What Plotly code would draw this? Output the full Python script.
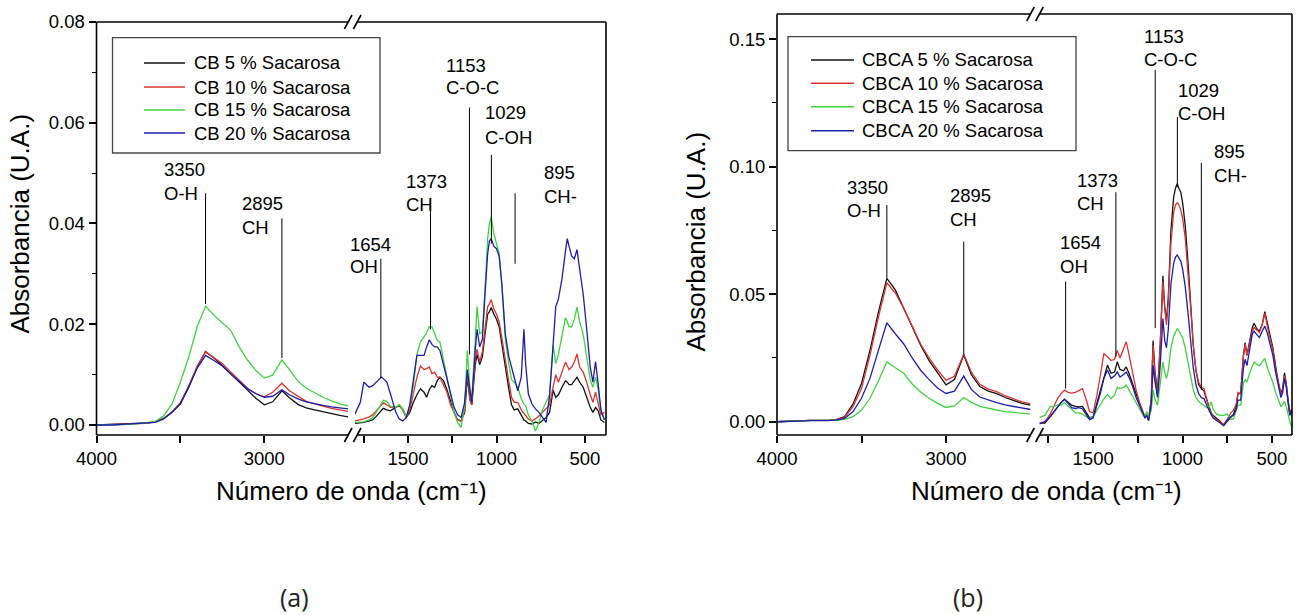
import plotly.graph_objects as go

# ---------------- data: FTIR spectra ----------------
# wavenumbers (cm-1) of the high-frequency segment, shared by both panels
wn_left = [4000, 3900, 3800, 3700, 3650, 3600, 3550, 3500, 3450, 3400,
           3350, 3300, 3250, 3200, 3150, 3100, 3050, 3000, 2950, 2895,
           2850, 2800, 2750, 2700, 2650, 2600, 2550, 2500]

# panel (a): CB samples
cb5_left = [0.0, 0.0001, 0.0002, 0.0004, 0.0006, 0.0013, 0.0025, 0.0042, 0.0075, 0.0115,
            0.0146, 0.0133, 0.0118, 0.0102, 0.0085, 0.0068, 0.0053, 0.0040, 0.0046, 0.0068,
            0.0054, 0.0041, 0.0034, 0.0030, 0.0026, 0.0022, 0.0019, 0.0016]
cb10_left = [0.0, 0.0001, 0.0002, 0.0003, 0.0006, 0.0013, 0.0026, 0.0044, 0.0078, 0.0117,
             0.0145, 0.0134, 0.0122, 0.0105, 0.0088, 0.0073, 0.0062, 0.0056, 0.0065, 0.0083,
             0.0068, 0.0057, 0.0047, 0.0042, 0.0037, 0.0033, 0.0030, 0.0027]
cb15_left = [0.0, 0.0001, 0.0001, 0.0004, 0.0007, 0.0018, 0.0042, 0.0085, 0.0135, 0.0195,
             0.0236, 0.0218, 0.0202, 0.0188, 0.0155, 0.0129, 0.0108, 0.0093, 0.0099, 0.0129,
             0.0110, 0.0087, 0.0073, 0.0064, 0.0055, 0.0048, 0.0042, 0.0038]
cb20_left = [0.0, 0.0, 0.0002, 0.0003, 0.0005, 0.0012, 0.0025, 0.0043, 0.0076, 0.0113,
             0.0138, 0.0128, 0.0117, 0.0101, 0.0086, 0.0072, 0.0062, 0.0055, 0.0057, 0.0070,
             0.0060, 0.0052, 0.0046, 0.0042, 0.0039, 0.0036, 0.0034, 0.0032]

wn_a_right = [1800, 1770, 1750, 1720, 1700, 1680, 1660, 1650, 1640, 1620,
              1600, 1570, 1550, 1530, 1510, 1490, 1470, 1450, 1430, 1410,
              1395, 1380, 1365, 1350, 1335, 1320, 1300, 1280, 1260, 1240,
              1220, 1200, 1180, 1165, 1150, 1140, 1120, 1110, 1095, 1080,
              1065, 1050, 1040, 1030, 1015, 1000, 985, 970, 950, 930,
              915, 900, 880, 860, 850, 845, 835, 820, 800, 780,
              760, 740, 720, 700, 680, 665, 650, 630, 610, 600,
              590, 575, 560, 545, 530, 510, 490, 470, 455, 440,
              425, 410, 390]
cb5_right = [0.0003, 0.0004, 0.0005, 0.0008, 0.0010, 0.0017, 0.0025, 0.0030, 0.0033, 0.0030,
             0.0028, 0.0035, 0.0038, 0.0030, 0.0015, 0.0025, 0.0045, 0.0060, 0.0072, 0.0065,
             0.0055, 0.0070, 0.0078, 0.0075, 0.0088, 0.0095, 0.0088, 0.0070, 0.0045, 0.0025,
             0.0010, 0.0008, 0.0025, 0.0095, 0.0050, 0.0040, 0.0120, 0.0140, 0.0120, 0.0135,
             0.0180, 0.0220, 0.0225, 0.0233, 0.0220, 0.0210, 0.0195, 0.0160, 0.0110, 0.0070,
             0.0040, 0.0030, 0.0032, 0.0020, 0.0012, 0.0010, 0.0008, 0.0003, 0.0002, 0.0006,
             0.0003, 0.0010, 0.0015, 0.0025, 0.0069, 0.0055, 0.0060, 0.0075, 0.0088, 0.0085,
             0.0080, 0.0080, 0.0088, 0.0095, 0.0085, 0.0075, 0.0055, 0.0035, 0.0025, 0.0035,
             0.0028, 0.0010, 0.0005]
cb10_right = [0.0008, 0.0010, 0.0012, 0.0016, 0.0020, 0.0028, 0.0036, 0.0040, 0.0044, 0.0040,
              0.0035, 0.0035, 0.0040, 0.0032, 0.0015, 0.0030, 0.0060, 0.0095, 0.0117, 0.0110,
              0.0112, 0.0115, 0.0102, 0.0105, 0.0095, 0.0095, 0.0080, 0.0065, 0.0040, 0.0025,
              0.0010, 0.0008, 0.0030, 0.0105, 0.0050, 0.0040, 0.0130, 0.0150, 0.0125, 0.0145,
              0.0190, 0.0235, 0.0240, 0.0249, 0.0230, 0.0220, 0.0205, 0.0175, 0.0130, 0.0085,
              0.0055, 0.0045, 0.0045, 0.0030, 0.0025, 0.0023, 0.0020, 0.0012, 0.0008, 0.0012,
              0.0018, 0.0025, 0.0032, 0.0040, 0.0075, 0.0100, 0.0085, 0.0105, 0.0125, 0.0118,
              0.0110, 0.0115, 0.0125, 0.0141, 0.0115, 0.0105, 0.0085, 0.0060, 0.0045, 0.0065,
              0.0045, 0.0020, 0.0025]
cb15_right = [0.0005, 0.0005, 0.0006, 0.0010, 0.0015, 0.0025, 0.0038, 0.0045, 0.0049, 0.0047,
              0.0037, 0.0035, 0.0040, 0.0030, 0.0016, 0.0040, 0.0078, 0.0140, 0.0165, 0.0175,
              0.0183, 0.0195, 0.0195, 0.0182, 0.0168, 0.0165, 0.0130, 0.0090, 0.0055, 0.0025,
              0.0005, -0.0005, 0.0040, 0.0148, 0.0072, 0.0050, 0.0170, 0.0235, 0.0180, 0.0185,
              0.0270, 0.0370, 0.0400, 0.0413, 0.0380, 0.0360, 0.0340, 0.0280, 0.0170, 0.0120,
              0.0090, 0.0085, 0.0075, 0.0052, 0.0045, 0.0042, 0.0038, 0.0020, 0.0008, -0.0012,
              0.0005, 0.0030, 0.0045, 0.0060, 0.0158, 0.0122, 0.0140, 0.0175, 0.0213, 0.0205,
              0.0195, 0.0195, 0.0210, 0.0234, 0.0205, 0.0180, 0.0130, 0.0090, 0.0075, 0.0095,
              0.0070, 0.0030, 0.0010]
cb20_right = [0.0022, 0.0045, 0.0085, 0.0075, 0.0078, 0.0085, 0.0092, 0.0095, 0.0092, 0.0085,
              0.0062, 0.0026, 0.0012, 0.0008, 0.0015, 0.0040, 0.0090, 0.0138, 0.0138, 0.0138,
              0.0155, 0.0169, 0.0160, 0.0155, 0.0155, 0.0148, 0.0120, 0.0090, 0.0065, 0.0035,
              0.0020, 0.0015, 0.0045, 0.0110, 0.0068, 0.0045, 0.0150, 0.0190, 0.0155, 0.0170,
              0.0260, 0.0340, 0.0365, 0.0370, 0.0355, 0.0350, 0.0335, 0.0280, 0.0180, 0.0135,
              0.0115, 0.0095, 0.0068, 0.0095, 0.0175, 0.0190, 0.0120, 0.0062, 0.0042, 0.0032,
              0.0025, 0.0015, 0.0005, 0.0058, 0.0150, 0.0235, 0.0250, 0.0290, 0.0345, 0.0370,
              0.0355, 0.0335, 0.0330, 0.0348, 0.0310, 0.0260, 0.0190, 0.0115, 0.0085, 0.0126,
              0.0080, 0.0030, 0.0010]

# panel (b): CBCA samples
cbca5_left = [0.0, 0.0003, 0.0005, 0.0005, 0.0008, 0.0020, 0.0070, 0.0150, 0.0280, 0.0430,
              0.0562, 0.0517, 0.0445, 0.0370, 0.0300, 0.0240, 0.0192, 0.0145, 0.0165, 0.0262,
              0.0185, 0.0138, 0.0120, 0.0110, 0.0095, 0.0082, 0.0072, 0.0065]
cbca10_left = [0.0, 0.0003, 0.0005, 0.0005, 0.0007, 0.0017, 0.0060, 0.0130, 0.0260, 0.0410,
               0.0545, 0.0505, 0.0445, 0.0375, 0.0305, 0.0250, 0.0203, 0.0163, 0.0178, 0.0265,
               0.0195, 0.0147, 0.0128, 0.0118, 0.0102, 0.0090, 0.0078, 0.0070]
cbca15_left = [0.0, 0.0003, 0.0005, 0.0005, 0.0005, 0.0009, 0.0020, 0.0045, 0.0092, 0.0160,
               0.0235, 0.0212, 0.0190, 0.0148, 0.0117, 0.0092, 0.0072, 0.0056, 0.0062, 0.0095,
               0.0076, 0.0060, 0.0052, 0.0046, 0.0040, 0.0036, 0.0033, 0.0030]
cbca20_left = [0.0, 0.0003, 0.0004, 0.0004, 0.0006, 0.0013, 0.0040, 0.0092, 0.0170, 0.0280,
               0.0388, 0.0345, 0.0305, 0.0250, 0.0202, 0.0165, 0.0132, 0.0111, 0.0120, 0.0179,
               0.0127, 0.0097, 0.0085, 0.0075, 0.0066, 0.0060, 0.0053, 0.0048]

wn_b_right = [1800, 1770, 1740, 1720, 1700, 1680, 1660, 1640, 1620, 1600,
              1580, 1560, 1540, 1520, 1500, 1480, 1460, 1440, 1420, 1400,
              1380, 1365, 1350, 1330, 1315, 1300, 1280, 1260, 1240, 1220,
              1210, 1200, 1190, 1175, 1165, 1155, 1140, 1125, 1110, 1100,
              1090, 1080, 1065, 1050, 1040, 1030, 1020, 1010, 1000, 985,
              970, 955, 940, 925, 910, 895, 880, 865, 850, 840,
              830, 810, 790, 770, 750, 730, 715, 700, 690, 675,
              660, 650, 640, 625, 610, 600, 585, 570, 555, 540,
              525, 510, 495, 480, 465, 450, 440, 430, 420, 410,
              400, 390]
cbca5_right = [-0.0005, -0.0005, 0.0020, 0.0040, 0.0060, 0.0075, 0.0088, 0.0075, 0.0065, 0.0060,
               0.0058, 0.0060, 0.0040, 0.0015, 0.0020, 0.0070, 0.0120, 0.0180, 0.0222, 0.0190,
               0.0195, 0.0235, 0.0205, 0.0200, 0.0215, 0.0190, 0.0150, 0.0105, 0.0065, 0.0030,
               0.0015, 0.0030, 0.0005, 0.0090, 0.0318, 0.0200, 0.0115, 0.0300, 0.0572, 0.0450,
               0.0400, 0.0485, 0.0750, 0.0880, 0.0915, 0.0933, 0.0915, 0.0900, 0.0860, 0.0770,
               0.0630, 0.0460, 0.0300, 0.0200, 0.0145, 0.0131, 0.0120, 0.0085, 0.0050, 0.0035,
               0.0025, 0.0012, 0.0002, -0.0015, 0.0002, 0.0020, 0.0030, 0.0060, 0.0110, 0.0110,
               0.0260, 0.0310, 0.0260, 0.0315, 0.0370, 0.0386, 0.0365, 0.0355, 0.0380, 0.0432,
               0.0380, 0.0335, 0.0290, 0.0220, 0.0155, 0.0110, 0.0130, 0.0192, 0.0150, 0.0080,
               0.0030, 0.0050]
cbca10_right = [-0.0005, 0.0000, 0.0030, 0.0060, 0.0090, 0.0110, 0.0124, 0.0115, 0.0112, 0.0115,
                0.0122, 0.0130, 0.0090, 0.0040, 0.0035, 0.0100, 0.0180, 0.0268, 0.0255, 0.0240,
                0.0245, 0.0280, 0.0250, 0.0285, 0.0314, 0.0265, 0.0190, 0.0125, 0.0075, 0.0035,
                0.0020, 0.0030, 0.0010, 0.0085, 0.0300, 0.0190, 0.0105, 0.0300, 0.0550, 0.0450,
                0.0380, 0.0470, 0.0700, 0.0820, 0.0850, 0.0859, 0.0850, 0.0830, 0.0800, 0.0720,
                0.0600, 0.0450, 0.0300, 0.0200, 0.0155, 0.0135, 0.0130, 0.0090, 0.0050, 0.0035,
                0.0020, 0.0008, 0.0000, -0.0010, 0.0010, 0.0035, 0.0045, 0.0070, 0.0115, 0.0110,
                0.0250, 0.0305, 0.0260, 0.0310, 0.0355, 0.0370, 0.0360, 0.0350, 0.0380, 0.0425,
                0.0370, 0.0325, 0.0280, 0.0210, 0.0150, 0.0105, 0.0125, 0.0180, 0.0145, 0.0075,
                0.0030, 0.0040]
cbca15_right = [0.0017, 0.0025, 0.0059, 0.0060, 0.0065, 0.0065, 0.0075, 0.0060, 0.0050, 0.0035,
                0.0035, 0.0030, 0.0020, 0.0012, 0.0020, 0.0045, 0.0070, 0.0090, 0.0107, 0.0090,
                0.0105, 0.0135, 0.0130, 0.0135, 0.0144, 0.0125, 0.0100, 0.0070, 0.0045, 0.0025,
                0.0020, 0.0040, 0.0015, 0.0045, 0.0125, 0.0090, 0.0065, 0.0145, 0.0235, 0.0195,
                0.0170, 0.0200, 0.0290, 0.0335, 0.0355, 0.0366, 0.0355, 0.0345, 0.0330, 0.0290,
                0.0240, 0.0180, 0.0125, 0.0095, 0.0080, 0.0070, 0.0065, 0.0055, 0.0060, 0.0078,
                0.0050, 0.0030, 0.0025, 0.0025, 0.0030, 0.0010, 0.0012, 0.0040, 0.0065, 0.0065,
                0.0150, 0.0165, 0.0155, 0.0190, 0.0220, 0.0235, 0.0225, 0.0220, 0.0235, 0.0248,
                0.0210, 0.0180, 0.0155, 0.0115, 0.0085, 0.0060, 0.0065, 0.0080, 0.0060, 0.0025,
                0.0000, -0.0020]
cbca20_right = [-0.0008, 0.0000, 0.0020, 0.0040, 0.0060, 0.0075, 0.0088, 0.0070, 0.0055, 0.0052,
                0.0055, 0.0050, 0.0030, 0.0008, 0.0015, 0.0060, 0.0110, 0.0170, 0.0203, 0.0170,
                0.0180, 0.0195, 0.0175, 0.0185, 0.0195, 0.0175, 0.0140, 0.0095, 0.0060, 0.0025,
                0.0015, 0.0025, 0.0005, 0.0070, 0.0222, 0.0160, 0.0095, 0.0220, 0.0405, 0.0320,
                0.0290, 0.0360, 0.0540, 0.0620, 0.0645, 0.0654, 0.0640, 0.0630, 0.0600, 0.0530,
                0.0430, 0.0320, 0.0210, 0.0145, 0.0110, 0.0095, 0.0090, 0.0065, 0.0040, 0.0028,
                0.0015, 0.0005, -0.0005, -0.0015, 0.0005, 0.0020, 0.0025, 0.0050, 0.0085, 0.0085,
                0.0210, 0.0245, 0.0220, 0.0290, 0.0345, 0.0355, 0.0340, 0.0330, 0.0355, 0.0375,
                0.0345, 0.0300, 0.0260, 0.0195, 0.0140, 0.0095, 0.0115, 0.0170, 0.0135, 0.0070,
                0.0025, 0.0040]

legend_a = ["CB 5 % Sacarosa", "CB 10 % Sacarosa", "CB 15 % Sacarosa", "CB 20 % Sacarosa"]
legend_b = ["CBCA 5 % Sacarosa", "CBCA 10 % Sacarosa", "CBCA 15 % Sacarosa", "CBCA 20 % Sacarosa"]

# assigned bands: wavenumber and group
peak_wn = [3350, 2895, 1654, 1373, 1153, 1029, 895]
peak_group = ["O-H", "CH", "OH", "CH", "C-O-C", "C-OH", "CH-"]
# absorbance span of each marker line
peak_a_top = [0.046, 0.041, 0.033, 0.044, 0.063, 0.0536, 0.046]
peak_a_bottom = [0.024, 0.0133, 0.0093, 0.019, 0.014, 0.036, 0.032]
peak_b_top = [0.085, 0.0706, 0.055, 0.090, 0.138, 0.1195, 0.1015]
peak_b_bottom = [0.0564, 0.026, 0.013, 0.0255, 0.0367, 0.092, 0.0124]

# axis ticks of the two segments
left_major = [4000, 3000]
left_minor = [3500]
right_major = [1500, 1000, 500]
right_minor = [1750, 1250, 750]

X_TITLE = "Número de onda (cm\u207b\u00b9)"
Y_TITLE = "Absorbancia (U.A.)"

# ---------------- styling / layout ----------------
W, H = 1299, 615
FONT = "Liberation Sans, Arial, sans-serif"
COLORS = ["#111111", "#dd3333", "#3fd43f", "#1d1dab"]
SMALL = 18.5
TITLE = 26


def fx(p):
    return p / W


def fy(p):
    return 1 - p / H


# frame geometry of each panel (pixels): left, right, top, bottom, break crossings
panels = {
    "a": dict(L=96.5, R=606, T=22, B=435, c1=348.2, c2=357.2,
              xl="x", xr="x2", y="y",
              left=[cb5_left, cb10_left, cb15_left, cb20_left],
              right=[cb5_right, cb10_right, cb15_right, cb20_right],
              wn_right=wn_a_right, legend=legend_a,
              top=peak_a_top, bottom=peak_a_bottom,
              leg_box=(112.5, 37.7, 380, 153), leg_rows=[63, 87, 110, 133],
              leg_line=(144, 185), leg_text=192,
              labels=[(161.7, 169, 193), (240, 203, 227), (348, 244, 267), (404, 182, 205),
                      (444, 65, 88), (483, 113, 137), (542, 173, 196)],
              ytitle=(19.6, 224), xtitle=(351, 491), tag=("(a)", 294, 597)),
    "b": dict(L=777, R=1292, T=14, B=435, c1=1030.5, c2=1039.5,
              xl="x3", xr="x4", y="y2",
              left=[cbca5_left, cbca10_left, cbca15_left, cbca20_left],
              right=[cbca5_right, cbca10_right, cbca15_right, cbca20_right],
              wn_right=wn_b_right, legend=legend_b,
              top=peak_b_top, bottom=peak_b_bottom,
              leg_box=(788, 36.7, 1076, 150.7), leg_rows=[60, 83.3, 106.7, 130.7],
              leg_line=(811, 854), leg_text=860,
              labels=[(844.7, 187.7, 211), (947.8, 195.7, 219), (1057.7, 242.7, 266),
                      (1075, 180, 203), (1142, 36, 60), (1176, 91, 114), (1211.6, 151.7, 175)],
              ytitle=(695.6, 242), xtitle=(1046, 491), tag=("(b)", 968, 597)),
}

fig = go.Figure()
shapes = []
annotations = []

for key, p in panels.items():
    xl, xr, yy = p["xl"], p["xr"], p["y"]
    for i in range(4):
        fig.add_trace(go.Scatter(x=wn_left, y=p["left"][i], mode="lines", xaxis=xl, yaxis=yy,
                                 line=dict(color=COLORS[i], width=1.3), showlegend=False,
                                 name=p["legend"][i], hoverinfo="skip"))
        fig.add_trace(go.Scatter(x=p["wn_right"], y=p["right"][i], mode="lines", xaxis=xr, yaxis=yy,
                                 line=dict(color=COLORS[i], width=1.3), showlegend=False,
                                 name=p["legend"][i], hoverinfo="skip"))

    L, R, T, B, c1, c2 = p["L"], p["R"], p["T"], p["B"], p["c1"], p["c2"]
    frame = dict(color="black", width=1.6)
    # frame with a gap at the axis break
    for (x0, y0, x1, y1) in [(L, T, L, B), (R, T, R, B), (L, B, c1, B), (c2, B, R, B),
                             (L, T, c1, T), (c2, T, R, T)]:
        shapes.append(dict(type="line", xref="paper", yref="paper", x0=fx(x0), y0=fy(y0),
                           x1=fx(x1), y1=fy(y1), line=frame))
    # break marks "//" on bottom and top edges
    for yb in (B, T):
        for c in (c1, c2):
            shapes.append(dict(type="line", xref="paper", yref="paper",
                               x0=fx(c - 3.8), y0=fy(yb + 7), x1=fx(c + 3.8), y1=fy(yb - 7),
                               line=frame))

    # band marker lines and their labels
    for k, wn in enumerate(peak_wn):
        xref = xl if wn > 2000 else xr
        shapes.append(dict(type="line", xref=xref, yref=yy, x0=wn, x1=wn,
                           y0=p["bottom"][k], y1=p["top"][k],
                           line=dict(color="black", width=1)))
        lx, ly1, ly2 = p["labels"][k]
        for txt, ly in ((str(wn), ly1), (peak_group[k], ly2)):
            annotations.append(dict(text=txt, xref="paper", yref="paper", x=fx(lx), y=fy(ly),
                                    xanchor="left", yanchor="middle", showarrow=False,
                                    font=dict(family=FONT, size=SMALL, color="black")))

    # legend box
    bx0, by0, bx1, by1 = p["leg_box"]
    shapes.append(dict(type="rect", xref="paper", yref="paper", x0=fx(bx0), y0=fy(by1),
                       x1=fx(bx1), y1=fy(by0), line=dict(color="#444444", width=1.3)))
    for i, row in enumerate(p["leg_rows"]):
        shapes.append(dict(type="line", xref="paper", yref="paper",
                           x0=fx(p["leg_line"][0]), x1=fx(p["leg_line"][1]), y0=fy(row), y1=fy(row),
                           line=dict(color=COLORS[i], width=1.5)))
        annotations.append(dict(text=p["legend"][i], xref="paper", yref="paper",
                                x=fx(p["leg_text"]), y=fy(row), xanchor="left", yanchor="middle",
                                showarrow=False, font=dict(family=FONT, size=SMALL, color="black")))

    # axis titles and panel tag
    annotations.append(dict(text=Y_TITLE, xref="paper", yref="paper",
                            x=fx(p["ytitle"][0]), y=fy(p["ytitle"][1]), textangle=-90,
                            xanchor="center", yanchor="middle", showarrow=False,
                            font=dict(family=FONT, size=TITLE, color="black")))
    annotations.append(dict(text=X_TITLE, xref="paper", yref="paper",
                            x=fx(p["xtitle"][0]), y=fy(p["xtitle"][1]),
                            xanchor="center", yanchor="middle", showarrow=False,
                            font=dict(family=FONT, size=TITLE, color="black")))
    annotations.append(dict(text=p["tag"][0], xref="paper", yref="paper",
                            x=fx(p["tag"][1]), y=fy(p["tag"][2]),
                            xanchor="center", yanchor="middle", showarrow=False,
                            font=dict(family="Open Sans, sans-serif", size=25, color="#222222")))

tick_common = dict(ticks="outside", ticklen=7, tickwidth=1.5, tickcolor="black",
                   showline=False, showgrid=False, zeroline=False,
                   tickfont=dict(family=FONT, size=SMALL, color="black"))

minor_x = dict(ticks="outside", ticklen=7, tickwidth=1.5, tickcolor="black")
left_ticks = dict(tickmode="array", tickvals=left_major, ticktext=[str(v) for v in left_major],
                  minor=dict(tickmode="array", tickvals=left_minor, **minor_x))
right_ticks = dict(tickmode="array", tickvals=right_major, ticktext=[str(v) for v in right_major],
                   minor=dict(tickmode="array", tickvals=right_minor, **minor_x))

pa, pb = panels["a"], panels["b"]
fig.update_layout(
    width=W, height=H, autosize=False,
    margin=dict(l=0, r=0, t=0, b=0, pad=0, autoexpand=False),
    paper_bgcolor="white", plot_bgcolor="white",
    xaxis=dict(domain=[fx(pa["L"]), fx(pa["c1"])], range=[4000, 2500], anchor="y",
               **left_ticks, **tick_common),
    xaxis2=dict(domain=[fx(355), fx(pa["R"])], range=[1800, 381], anchor="y",
                **right_ticks, **tick_common),
    xaxis3=dict(domain=[fx(pb["L"]), fx(pb["c1"])], range=[4000, 2500], anchor="y2",
                **left_ticks, **tick_common),
    xaxis4=dict(domain=[fx(pb["c2"]), fx(pb["R"])], range=[1800, 388], anchor="y2",
                **right_ticks, **tick_common),
    yaxis=dict(domain=[fy(pa["B"]), fy(pa["T"])], range=[-0.00199, 0.08], anchor="x",
               tick0=0, dtick=0.02, tickformat=".2f",
               minor=dict(dtick=0.01, ticks="outside", ticklen=4, tickcolor="black", tickwidth=1.2),
               **tick_common),
    yaxis2=dict(domain=[fy(pb["B"]), fy(pb["T"])], range=[-0.0052, 0.1599], anchor="x3",
                tick0=0, dtick=0.05, tickformat=".2f",
                minor=dict(dtick=0.025, ticks="outside", ticklen=4, tickcolor="black", tickwidth=1.2),
                **tick_common),
    shapes=shapes,
    annotations=annotations,
)

fig.write_html("out.html")
